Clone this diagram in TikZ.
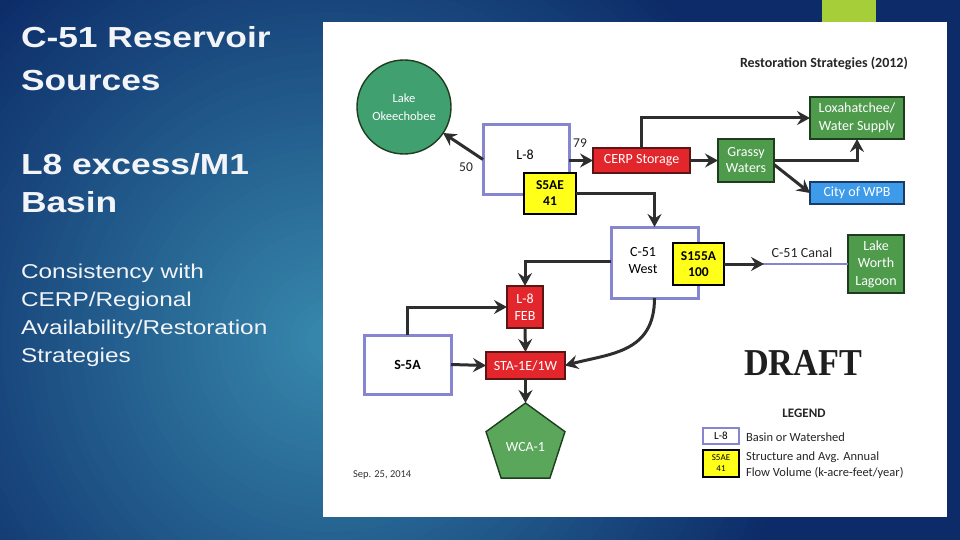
\documentclass[tikz,border=0pt]{standalone}
\usepackage{fontspec}
\setmainfont{Carlito}
\newfontfamily\arialf[FakeStretch=1.22]{Liberation Sans}
\newfontfamily\draftf{Liberation Serif}
\usetikzlibrary{arrows.meta,shapes.geometric,calc}
\definecolor{navy}{HTML}{0C2B68}
\definecolor{tealb}{HTML}{3788AD}
\definecolor{lime}{HTML}{A6CE39}
\definecolor{purp}{HTML}{8585D0}
\definecolor{redf}{HTML}{E3262B}
\definecolor{redb}{HTML}{5A1515}
\definecolor{grnf}{HTML}{4E9B4C}
\definecolor{grnb}{HTML}{1E3D1E}
\definecolor{lakef}{HTML}{41A070}
\definecolor{wcaf}{HTML}{5AA65A}
\definecolor{bluef}{HTML}{3D9BE9}
\definecolor{blueb}{HTML}{1A3A6A}
\definecolor{yelf}{HTML}{FFFF1A}
\definecolor{arrc}{HTML}{2E2E2E}
\definecolor{txtw}{HTML}{F2F4F8}
\begin{document}
\begin{tikzpicture}[x=1pt,y=-1pt,
  every node/.style={inner sep=0pt, outer sep=0pt},
  basin/.style={draw=purp, line width=3pt, fill=white},
  struct/.style={draw=black, line width=1.4pt, fill=yelf, font=\fontsize{13.5}{16}\selectfont\bfseries, align=center},
  redbox/.style={draw=redb, line width=1.2pt, fill=redf, text=white, font=\fontsize{14}{17}\selectfont, align=center},
  grnbox/.style={draw=grnb, line width=1.4pt, fill=grnf, text=white, font=\fontsize{14}{17.5}\selectfont, align=center},
  lbl/.style={font=\fontsize{14}{17}\selectfont, text=black, align=center},
  arr/.style={draw=arrc, line width=3pt, -{Stealth[length=13pt,width=14pt,inset=4.5pt]}},
  lefttitle/.style={anchor=base west, text=txtw, font=\arialf\fontsize{29}{34}\selectfont\bfseries},
  leftbody/.style={anchor=base west, text=txtw, font=\arialf\fontsize{20}{24}\selectfont},
  legtxt/.style={anchor=base west, text=black!85, font=\fontsize{12.5}{15}\selectfont}
]
\useasboundingbox (0,0) rectangle (960,540);
% background
\fill[navy] (0,0) rectangle (960,540);
\begin{scope}
\clip (0,0) rectangle (960,540);
\foreach \i in {0,...,59} {
  \pgfmathsetmacro\r{480*(1-\i/60)}
  \pgfmathsetmacro\p{100*\i/59}
  \fill[tealb!\p!navy] (330,340) circle[radius=\r];
}
\end{scope}
\fill[lime] (822,0) rectangle (876,22);
\fill[white] (323,22) rectangle (947,517);

% left texts
\node[lefttitle] (t1) at (21,48) {C-51 Reservoir};
\node[lefttitle] (t2) at (21,91) {Sources};
\node[lefttitle] (t3) at (21,175) {L8 excess/M1};
\node[lefttitle] (t4) at (21,212) {Basin};
\node[leftbody] (b1) at (21,278) {Consistency with};
\node[leftbody] (b2) at (21,306) {CERP/Regional};
\node[leftbody] (b3) at (21,334) {Availability/Restoration};
\node[leftbody] (b4) at (21,362) {Strategies};

% header
\node[anchor=base west, font=\fontsize{14}{16}\selectfont\bfseries, text=black!85] (hdr) at (740,68) {Restoration Strategies (2012)};

% nodes
\node[circle, draw=grnb, line width=1.4pt, fill=lakef, minimum size=94pt, text=white, font=\fontsize{12.5}{18}\selectfont, align=center] (lake) at (404,107) {Lake\\Okeechobee};
\node[basin, minimum width=86pt, minimum height=69pt] (L8) at (526,159.5) {};
\node[lbl] (L8t) at (525,155) {L-8};
\node[struct, minimum width=52pt, minimum height=41pt] (S5AE) at (550,193.5) {S5AE\\41};
\node[redbox, minimum width=97pt, minimum height=25pt] (CERP) at (641.5,160.5) {CERP Storage};
\node[grnbox, minimum width=56pt, minimum height=43pt, font=\fontsize{14}{16}\selectfont] (GW) at (746,160.5) {Grassy\\Waters};
\node[grnbox, minimum width=94pt, minimum height=42pt] (LOX) at (857,118) {Loxahatchee/\\Water Supply};
\node[draw=blueb, line width=1.4pt, fill=bluef, text=white, font=\fontsize{14}{17}\selectfont, minimum width=94pt, minimum height=22pt] (WPB) at (857,193) {City of WPB};
\node[basin, minimum width=87pt, minimum height=71pt] (C51W) at (654.5,262.5) {};
\node[lbl] (C51Wt) at (643,261) {C-51\\West};
\node[struct, minimum width=51pt, minimum height=42pt] (S155A) at (698.5,264) {S155A\\100};
\node[grnbox, minimum width=56pt, minimum height=58pt] (LWL) at (876,264) {Lake\\Worth\\Lagoon};
\node[redbox, minimum width=36pt, minimum height=42pt] (FEB) at (525,307) {L-8\\FEB};
\node[basin, minimum width=87pt, minimum height=59pt] (S5A) at (407.5,364.5) {};
\node[lbl, font=\fontsize{14}{17}\selectfont\bfseries] (S5At) at (407.5,365) {S-5A};
\node[redbox, minimum width=79pt, minimum height=27pt] (STA) at (525.5,365.5) {STA-1E/1W};
\node[regular polygon, regular polygon sides=5, minimum size=83pt, draw=grnb, line width=1.4pt, fill=wcaf] (WCA) at (525.5,444.5) {};
\node[text=white, font=\fontsize{14}{17}\selectfont] (WCAt) at (525.5,447) {WCA-1};

% labels
\node[font=\fontsize{13.5}{16}\selectfont, text=black!85] (n50) at (466,167) {50};
\node[font=\fontsize{13.5}{16}\selectfont, text=black!85] (n79) at (580,143) {79};
\node[font=\fontsize{14}{17}\selectfont, text=black!85] (canal) at (802,253) {C-51 Canal};
\coordinate (canaltip) at (764,264);

% connectors
\draw[arr] (L8.west) -- (lake);
\draw[arr] (L8.east |- CERP.west) -- (CERP.west);
\draw[arr] (CERP.north) |- (LOX.west);
\draw[arr] (CERP.east) -- (GW.west);
\draw[arr] (GW.east) -| (LOX.south);
\draw[arr] ([yshift=-4pt]GW.east) -- (WPB.west);
\draw[arr] (S5AE.east) -| (C51W.north);
\draw[draw=purp, line width=2.5pt] (S155A.east) -- (LWL.west);
\draw[arr] (S155A.east) -- (canaltip);
\draw[arr] (C51W.west |- C51Wt) -| (FEB.north);
\draw[arr] (S5A.north) |- (FEB.west);
\draw[arr] (FEB.south) -- (STA.north);
\draw[arr] (S5A.east) -- (STA.west);
\draw[arr] (C51W.south) .. controls +(0,55) and +(45,-12) .. (STA.east);
\draw[arr] (STA.south) -- (WCA.corner 1);

% DRAFT and legend
\node[text=black!88, font=\draftf\fontsize{38}{40}\selectfont\bfseries] (draft) at (803,362.5) {\scalebox{0.9}[1]{DRAFT}};
\node[font=\fontsize{13}{15}\selectfont\bfseries, text=black!85] (leg) at (804,413) {LEGEND};
\node[draw=purp, line width=2.5pt, fill=white, minimum width=36pt, minimum height=16pt, font=\fontsize{11}{13}\selectfont] (legL8) at (721,436) {L-8};
\node[draw=black, line width=1.3pt, fill=yelf, minimum width=36pt, minimum height=27pt, font=\fontsize{9}{11}\selectfont, align=center] (legS) at (721,463.5) {S5AE\\41};
\node[legtxt] (lt1) at (746,441) {Basin or Watershed};
\node[legtxt] (lt2) at (746,460) {Structure and Avg. Annual};
\node[legtxt] (lt3) at (746,476) {Flow Volume (k-acre-feet/year)};
\node[anchor=base west, font=\fontsize{10.5}{12}\selectfont, text=black!80] (date) at (353,477) {Sep. 25, 2014};
\end{tikzpicture}
\end{document}
